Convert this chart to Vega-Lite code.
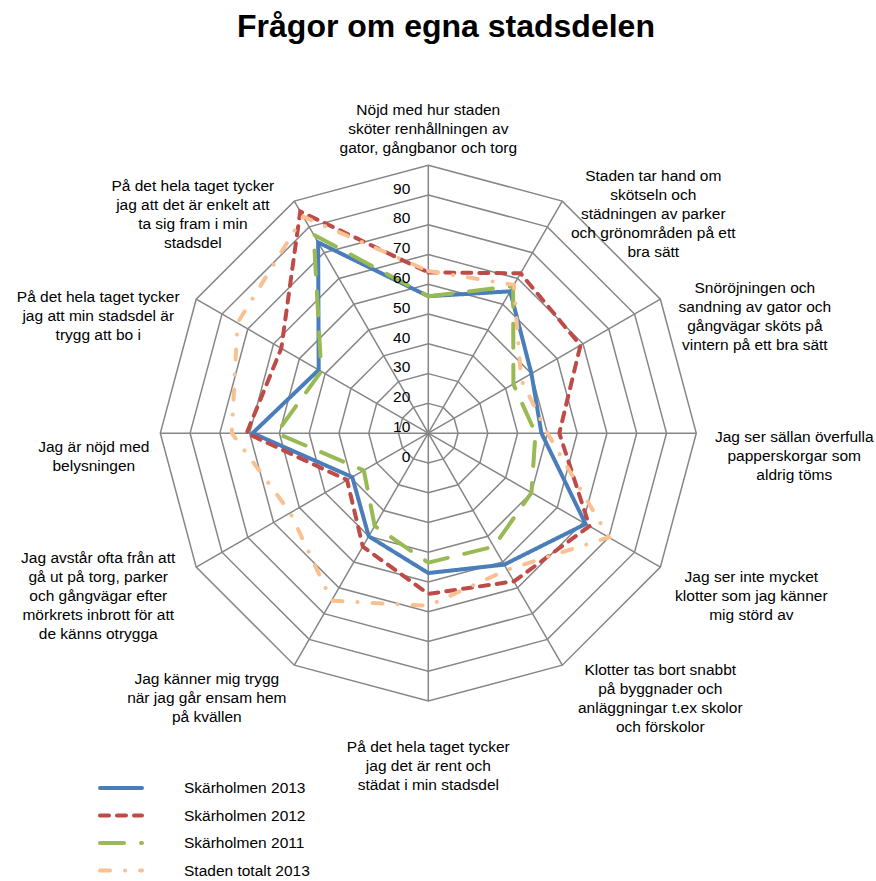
{
  "$schema": "https://vega.github.io/schema/vega-lite/v6.json",
  "width": 876,
  "height": 881,
  "padding": 0,
  "autosize": {"type": "none"},
  "background": "white",
  "config": {"view": {"stroke": null}, "font": "Liberation Sans"},
  "title": {"text": "Frågor om egna stadsdelen", "font": "Liberation Sans", "fontSize": 32, "fontWeight": "bold", "color": "black", "anchor": "middle", "baseline": "alphabetic", "offset": -69, "dx": 8},
  "datasets": {
    "cats": [
      {"k": 0, "label": "Nöjd med hur staden\nsköter renhållningen av\ngator, gångbanor och torg"},
      {"k": 1, "label": "Staden tar hand om\nskötseln och\nstädningen av parker\noch grönområden på ett\nbra sätt"},
      {"k": 2, "label": "Snöröjningen och\nsandning av gator och\ngångvägar sköts på\nvintern på ett bra sätt"},
      {"k": 3, "label": "Jag ser sällan överfulla\npapperskorgar som\naldrig töms"},
      {"k": 4, "label": "Jag ser inte mycket\nklotter som jag känner\nmig störd av"},
      {"k": 5, "label": "Klotter tas bort snabbt\npå byggnader och\nanläggningar t.ex skolor\noch förskolor"},
      {"k": 6, "label": "På det hela taget tycker\njag det är rent och\nstädat i min stadsdel"},
      {"k": 7, "label": "Jag känner mig trygg\nnär jag går ensam hem\npå kvällen"},
      {"k": 8, "label": "Jag avstår ofta från att\ngå ut på torg, parker\noch gångvägar efter\nmörkrets inbrott för att\nde känns otrygga"},
      {"k": 9, "label": "Jag är nöjd med\nbelysningen"},
      {"k": 10, "label": "På det hela taget tycker\njag att min stadsdel är\ntrygg att bo i"},
      {"k": 11, "label": "På det hela taget tycker\njag att det är enkelt att\nta sig fram i min\nstadsdel"}
    ],
    "points": [
      {"series": "Skärholmen 2013", "k": 0, "value": 46},
      {"series": "Skärholmen 2013", "k": 1, "value": 55},
      {"series": "Skärholmen 2013", "k": 2, "value": 40},
      {"series": "Skärholmen 2013", "k": 3, "value": 38},
      {"series": "Skärholmen 2013", "k": 4, "value": 61},
      {"series": "Skärholmen 2013", "k": 5, "value": 51},
      {"series": "Skärholmen 2013", "k": 6, "value": 47},
      {"series": "Skärholmen 2013", "k": 7, "value": 40},
      {"series": "Skärholmen 2013", "k": 8, "value": 29.5},
      {"series": "Skärholmen 2013", "k": 9, "value": 59},
      {"series": "Skärholmen 2013", "k": 10, "value": 42.5},
      {"series": "Skärholmen 2013", "k": 11, "value": 74},
      {"series": "Skärholmen 2012", "k": 0, "value": 54},
      {"series": "Skärholmen 2012", "k": 1, "value": 62},
      {"series": "Skärholmen 2012", "k": 2, "value": 59},
      {"series": "Skärholmen 2012", "k": 3, "value": 44},
      {"series": "Skärholmen 2012", "k": 4, "value": 62.5},
      {"series": "Skärholmen 2012", "k": 5, "value": 57.5},
      {"series": "Skärholmen 2012", "k": 6, "value": 54},
      {"series": "Skärholmen 2012", "k": 7, "value": 44},
      {"series": "Skärholmen 2012", "k": 8, "value": 31.5},
      {"series": "Skärholmen 2012", "k": 9, "value": 61},
      {"series": "Skärholmen 2012", "k": 10, "value": 57},
      {"series": "Skärholmen 2012", "k": 11, "value": 86},
      {"series": "Skärholmen 2011", "k": 0, "value": 46},
      {"series": "Skärholmen 2011", "k": 1, "value": 57},
      {"series": "Skärholmen 2011", "k": 2, "value": 33},
      {"series": "Skärholmen 2011", "k": 3, "value": 36},
      {"series": "Skärholmen 2011", "k": 4, "value": 40},
      {"series": "Skärholmen 2011", "k": 5, "value": 44},
      {"series": "Skärholmen 2011", "k": 6, "value": 43.5},
      {"series": "Skärholmen 2011", "k": 7, "value": 36},
      {"series": "Skärholmen 2011", "k": 8, "value": 25},
      {"series": "Skärholmen 2011", "k": 9, "value": 51},
      {"series": "Skärholmen 2011", "k": 10, "value": 41.5},
      {"series": "Skärholmen 2011", "k": 11, "value": 77},
      {"series": "Staden totalt 2013", "k": 0, "value": 54.5},
      {"series": "Staden totalt 2013", "k": 1, "value": 57.5},
      {"series": "Staden totalt 2013", "k": 2, "value": 36},
      {"series": "Staden totalt 2013", "k": 3, "value": 40},
      {"series": "Staden totalt 2013", "k": 4, "value": 70},
      {"series": "Staden totalt 2013", "k": 5, "value": 53},
      {"series": "Staden totalt 2013", "k": 6, "value": 58},
      {"series": "Staden totalt 2013", "k": 7, "value": 65},
      {"series": "Staden totalt 2013", "k": 8, "value": 53.5},
      {"series": "Staden totalt 2013", "k": 9, "value": 66},
      {"series": "Staden totalt 2013", "k": 10, "value": 74},
      {"series": "Staden totalt 2013", "k": 11, "value": 84}
    ],
    "rings": [
      {"r": 10, "k": [0,1,2,3,4,5,6,7,8,9,10,11]},
      {"r": 20, "k": [0,1,2,3,4,5,6,7,8,9,10,11]},
      {"r": 30, "k": [0,1,2,3,4,5,6,7,8,9,10,11]},
      {"r": 40, "k": [0,1,2,3,4,5,6,7,8,9,10,11]},
      {"r": 50, "k": [0,1,2,3,4,5,6,7,8,9,10,11]},
      {"r": 60, "k": [0,1,2,3,4,5,6,7,8,9,10,11]},
      {"r": 70, "k": [0,1,2,3,4,5,6,7,8,9,10,11]},
      {"r": 80, "k": [0,1,2,3,4,5,6,7,8,9,10,11]},
      {"r": 90, "k": [0,1,2,3,4,5,6,7,8,9,10,11]}
    ],
    "ticks": [
      {"v": 0}, {"v": 10}, {"v": 20}, {"v": 30}, {"v": 40},
      {"v": 50}, {"v": 60}, {"v": 70}, {"v": 80}, {"v": 90}
    ]
  },
  "layer": [
    {
      "data": {"name": "rings"},
      "transform": [
        {"flatten": ["k"]},
        {"calculate": "datum.r*sin(datum.k*PI/6)", "as": "x"},
        {"calculate": "datum.r*cos(datum.k*PI/6)", "as": "y"}
      ],
      "mark": {"type": "line", "interpolate": "linear-closed", "color": "#868686", "strokeWidth": 1.5},
      "encoding": {
        "x": {"field": "x", "type": "quantitative", "scale": {"domain": [-143.84, 150.36], "nice": false, "zero": false}, "axis": null},
        "y": {"field": "y", "type": "quantitative", "scale": {"domain": [-150.44, 145.5], "nice": false, "zero": false}, "axis": null},
        "detail": {"field": "r", "type": "nominal"},
        "order": {"field": "k", "type": "quantitative"}
      }
    },
    {
      "data": {"name": "cats"},
      "transform": [
        {"calculate": "0", "as": "cx"},
        {"calculate": "90*sin(datum.k*PI/6)", "as": "ex"},
        {"calculate": "90*cos(datum.k*PI/6)", "as": "ey"}
      ],
      "mark": {"type": "rule", "color": "#868686", "strokeWidth": 1.5},
      "encoding": {
        "x": {"field": "cx", "type": "quantitative", "scale": {"domain": [-143.84, 150.36], "nice": false, "zero": false}, "axis": null},
        "y": {"field": "cx", "type": "quantitative", "scale": {"domain": [-150.44, 145.5], "nice": false, "zero": false}, "axis": null},
        "x2": {"field": "ex"},
        "y2": {"field": "ey"}
      }
    },
    {
      "data": {"name": "points"},
      "transform": [
        {"calculate": "datum.value*sin(datum.k*PI/6)", "as": "x"},
        {"calculate": "datum.value*cos(datum.k*PI/6)", "as": "y"}
      ],
      "mark": {"type": "line", "interpolate": "linear-closed", "strokeWidth": 4, "strokeCap": "round"},
      "encoding": {
        "x": {"field": "x", "type": "quantitative", "scale": {"domain": [-143.84, 150.36], "nice": false, "zero": false}, "axis": null},
        "y": {"field": "y", "type": "quantitative", "scale": {"domain": [-150.44, 145.5], "nice": false, "zero": false}, "axis": null},
        "color": {
          "field": "series", "type": "nominal",
          "scale": {"domain": ["Skärholmen 2013", "Skärholmen 2012", "Skärholmen 2011", "Staden totalt 2013"], "range": ["#4A7EBB", "#BE4B48", "#98B954", "#FAC090"]},
          "legend": {"title": null, "orient": "none", "legendX": 98, "legendY": 777, "symbolType": "stroke", "symbolSize": 1764, "symbolStrokeWidth": 4, "clipHeight": 22, "rowPadding": 5.5, "labelOffset": 40, "labelFontSize": 15.5, "labelFont": "Liberation Sans", "labelColor": "black", "padding": 0, "encode": {"symbols": {"update": {"strokeCap": {"value": "round"}}}}}
        },
        "strokeDash": {
          "field": "series", "type": "nominal",
          "scale": {"domain": ["Skärholmen 2013", "Skärholmen 2012", "Skärholmen 2011", "Staden totalt 2013"], "range": [[1, 0], [9, 8], [24, 17], [10, 15, 0.1, 15]]},
          "legend": {"title": null, "orient": "none", "legendX": 98, "legendY": 777, "symbolType": "stroke", "symbolSize": 1764, "symbolStrokeWidth": 4, "clipHeight": 22, "rowPadding": 5.5, "labelOffset": 40, "labelFontSize": 15.5, "labelFont": "Liberation Sans", "labelColor": "black", "padding": 0, "encode": {"symbols": {"update": {"strokeCap": {"value": "round"}}}}}
        },
        "order": {"field": "k", "type": "quantitative"}
      }
    },
    {
      "data": {"name": "cats"},
      "transform": [
        {"calculate": "split(datum.label, '\\n')", "as": "L"},
        {"calculate": "max(length(datum.L[0]||''), length(datum.L[1]||''), length(datum.L[2]||''), length(datum.L[3]||''), length(datum.L[4]||''))", "as": "mc"},
        {"calculate": "length(datum.L)", "as": "nl"},
        {"calculate": "sin(datum.k*PI/6)", "as": "S"},
        {"calculate": "cos(datum.k*PI/6)", "as": "C"},
        {"calculate": "datum.k==0||datum.k==6 ? 0 : 90*datum.S + (datum.S>0?1:-1)*(14+datum.mc*3.5)/2.978", "as": "lx"},
        {"calculate": "(datum.nl-1)*9.5/2.978 + (datum.k==0 ? 90+(8+datum.nl*9.5)/2.978 : datum.k==6 ? -90-(36+datum.nl*9.5)/2.978 : 90*datum.C-(23-11.5*datum.C)/2.978)", "as": "ly"}
      ],
      "mark": {"type": "text", "align": "center", "baseline": "middle", "fontSize": 15.5, "lineHeight": 19, "lineBreak": "\n", "font": "Liberation Sans", "color": "black"},
      "encoding": {
        "x": {"field": "lx", "type": "quantitative", "scale": {"domain": [-143.84, 150.36], "nice": false, "zero": false}, "axis": null},
        "y": {"field": "ly", "type": "quantitative", "scale": {"domain": [-150.44, 145.5], "nice": false, "zero": false}, "axis": null},
        "text": {"field": "label", "type": "nominal"}
      }
    },
    {
      "data": {"name": "ticks"},
      "transform": [{"calculate": "0", "as": "cx"}],
      "mark": {"type": "text", "align": "right", "baseline": "middle", "dx": -18, "dy": 23.5, "fontSize": 15.5, "font": "Liberation Sans", "color": "black"},
      "encoding": {
        "x": {"field": "cx", "type": "quantitative", "scale": {"domain": [-143.84, 150.36], "nice": false, "zero": false}, "axis": null},
        "y": {"field": "v", "type": "quantitative", "scale": {"domain": [-150.44, 145.5], "nice": false, "zero": false}, "axis": null},
        "text": {"field": "v", "type": "quantitative"}
      }
    }
  ]
}
